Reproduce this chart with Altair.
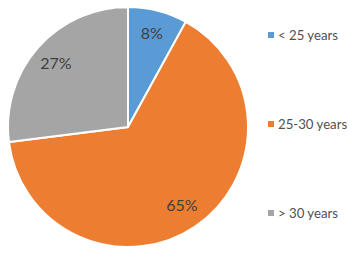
import altair as alt
import pandas as pd

categories = ["< 25 years", "25-30 years", "> 30 years"]
values = [8, 65, 27]
labels = ["8%", "65%", "27%"]
colors = ["#5B9BD5", "#ED7D31", "#A5A5A5"]

df = pd.DataFrame({
    "cat": categories,
    "val": values,
    "lab": labels,
    "ord": list(range(len(categories))),
})

color = alt.Color("cat:N", scale=alt.Scale(domain=categories, range=colors), legend=None)
FONT = "Lato"

base = alt.Chart(df)

arcs = base.mark_arc(outerRadius=120, stroke="white", strokeWidth=2).encode(
    theta=alt.Theta("val:Q", stack=True),
    color=color,
    order=alt.Order("ord:Q"),
    x=alt.value(120),
    y=alt.value(119),
)

pct = base.mark_text(radius=96, font=FONT, fontSize=16, color="#3F3F3F").encode(
    theta=alt.Theta("val:Q", stack=True),
    text="lab:N",
    order=alt.Order("ord:Q"),
    x=alt.value(120),
    y=alt.value(119),
)

yscale = alt.Scale(type="point", domain=categories, range=[27, 205], padding=0)

leg_pts = base.mark_point(shape="square", filled=True, size=36, opacity=1).encode(
    x=alt.value(263),
    y=alt.Y("cat:N", scale=yscale, axis=None),
    color=color,
)

leg_txt = base.mark_text(align="left", baseline="middle", font=FONT, fontSize=13.2, color="#505050", dy=1).encode(
    x=alt.value(270),
    y=alt.Y("cat:N", scale=yscale, axis=None),
    text="cat:N",
)

chart = alt.layer(arcs, pct, leg_pts, leg_txt).properties(
    width=340,
    height=239,
    padding=0,
    autosize=alt.AutoSizeParams(type="none"),
).configure_view(stroke=None)

chart.save("out.html", embed_options={"renderer": "svg", "actions": False})
